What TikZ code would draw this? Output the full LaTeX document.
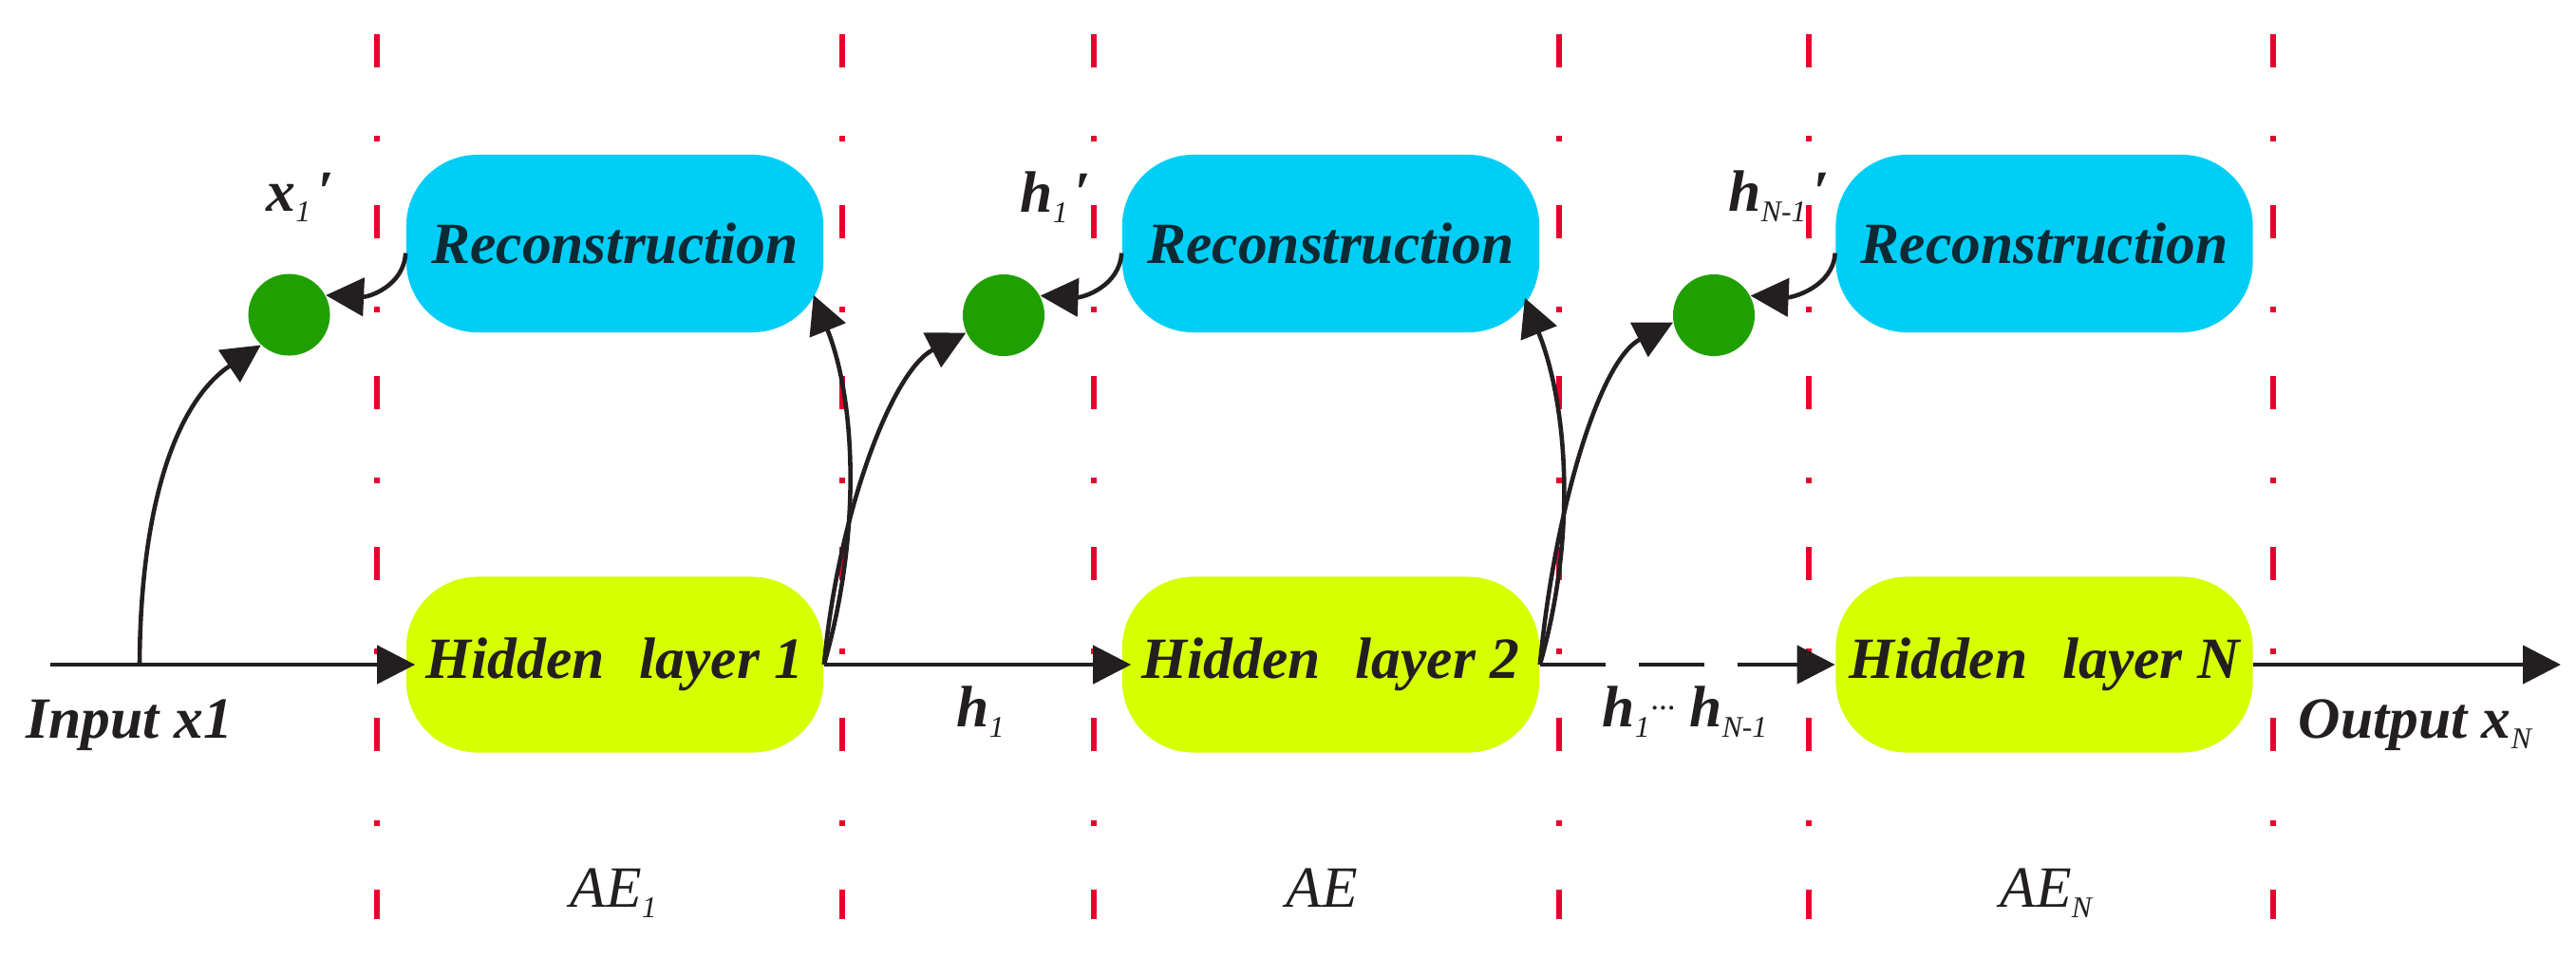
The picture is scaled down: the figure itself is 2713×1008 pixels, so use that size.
\documentclass[tikz,border=0pt]{standalone}
\usepackage{fontspec}
\setmainfont{Liberation Serif}
\usetikzlibrary{arrows.meta}
\definecolor{recblue}{RGB}{0,206,246}
\definecolor{hidgreen}{RGB}{214,255,0}
\definecolor{dotgreen}{RGB}{32,160,0}
\definecolor{sepred}{RGB}{232,0,45}
\definecolor{ink}{RGB}{35,31,32}
\definecolor{recink}{RGB}{12,42,52}
\newcommand\lsub[1]{\raisebox{-3.2pt}{\fontsize{9}{10}\selectfont\mdseries\itshape #1}}
\newcommand\lprime{\hspace{2pt}′}
\begin{document}
\begin{tikzpicture}[x=0.01cm,y=-0.01cm,
  lab/.style={font=\fontsize{17.5}{20}\selectfont\bfseries\itshape, text=ink, inner sep=0pt, anchor=base west},
  aelab/.style={font=\fontsize{17.5}{20}\selectfont\itshape, text=ink, inner sep=0pt, anchor=base west},
  recbox/.style={fill=recblue, rounded corners=0.75cm, minimum width=4.39cm, minimum height=1.87cm,
    inner sep=0pt, font=\fontsize{17.5}{20}\selectfont\bfseries\itshape, text=recink},
  hidbox/.style={fill=hidgreen, rounded corners=0.75cm, minimum width=4.39cm, minimum height=1.85cm,
    inner sep=0pt, font=\fontsize{17.5}{20}\selectfont\bfseries\itshape, text=ink},
  dotc/.style={circle, fill=dotgreen, minimum size=0.86cm, inner sep=0pt},
  sep/.style={draw=sepred, line width=1.7pt, dash pattern=on 0.35cm off 0.72cm on 0.06cm off 0.67cm},
  conn/.style={draw=ink, line width=1.3pt, -{Triangle[length=0.4cm,width=0.4cm]}},
]
\useasboundingbox (0,0) rectangle (2713,1008);
% separators
\foreach \x in {397,887,1152,1642,1905,2394}
  \draw[sep] (\x,36) -- (\x,968);
% boxes
\node[recbox] (r1) at (647.5,256.5) {Reconstruction};
\node[recbox] (r2) at (1401.5,256.5) {Reconstruction};
\node[recbox] (r3) at (2153,256.5) {Reconstruction};
\node[hidbox] (h1) at (647.5,700) {Hidden\hspace{0.35em} layer 1};
\node[hidbox] (h2) at (1401.5,700) {Hidden\hspace{0.35em} layer 2};
\node[hidbox] (hN) at (2153,700) {Hidden\hspace{0.35em} layer N};
% circles
\node[dotc] (c1) at (304.5,331.5) {};
\node[dotc] (c2) at (1057,332) {};
\node[dotc] (c3) at (1805,332) {};
% free ends
\coordinate (in) at (53,700);
\coordinate (b1) at (147,700);
\coordinate (out) at (2697,700);
% main line
\draw[conn, shorten >=-0.1cm] (in) -- (h1.west);
\draw[conn, shorten >=-0.1cm] (h1.east) -- (h2.west);
\draw[conn, dash pattern=on 0.69cm off 0.35cm] (h2.east) -- (hN.west);
\draw[conn] (hN.east) -- (out);
% input to x1'
\draw[conn] (b1) .. controls (148,520) and (190,420) .. (c1.227);
% reconstructions to circles
\draw[conn] ([yshift=-0.1cm]r1.west) .. controls +(-2,35) and +(45,2) .. (c1.28);
\draw[conn] ([yshift=-0.1cm]r2.west) .. controls +(-2,35) and +(45,2) .. (c2.28);
\draw[conn] ([yshift=-0.1cm]r3.west) .. controls +(-2,35) and +(45,2) .. (c3.28);
% hidden to reconstruction
\draw[conn] (h1.east) .. controls +(40,-140) and +(44,110) .. ([xshift=-0.11cm,yshift=0.4cm]r1.south east);
\draw[conn] (h2.east) .. controls +(40,-140) and +(44,110) .. ([xshift=-0.16cm,yshift=0.37cm]r2.south east);
% hidden to next circle
\draw[conn] (h1.east) .. controls +(15,-160) and +(-78,40) .. (c2.205);
\draw[conn] (h2.east) .. controls +(15,-160) and +(-78,40) .. (c3.190);
% labels
\node[lab] (lx1) at (280,222) {x\lsub{1}\lprime};
\node[lab] (lh1p) at (1074,223) {h\lsub{1}\lprime};
\node[lab] (lhNp) at (1820,222) {h\lsub{N-1}\lprime};
\node[lab] (lin) at (27,777) {Input x1};
\node[lab] (lh1) at (1007,765) {h\lsub{1}};
\node[lab] (lhs) at (1687,765) {h\lsub{1}\raisebox{2pt}{\fontsize{10}{10}\selectfont\mdseries ···}\hspace{0.25em}h\lsub{N-1}};
\node[lab] (lout) at (2420,777) {Output x\lsub{N}};
\node[aelab] (ae1) at (600,955) {AE\lsub{1}};
\node[aelab] (ae2) at (1354,955) {AE};
\node[aelab] (aeN) at (2106,955) {AE\lsub{N}};
\end{tikzpicture}
\end{document}
